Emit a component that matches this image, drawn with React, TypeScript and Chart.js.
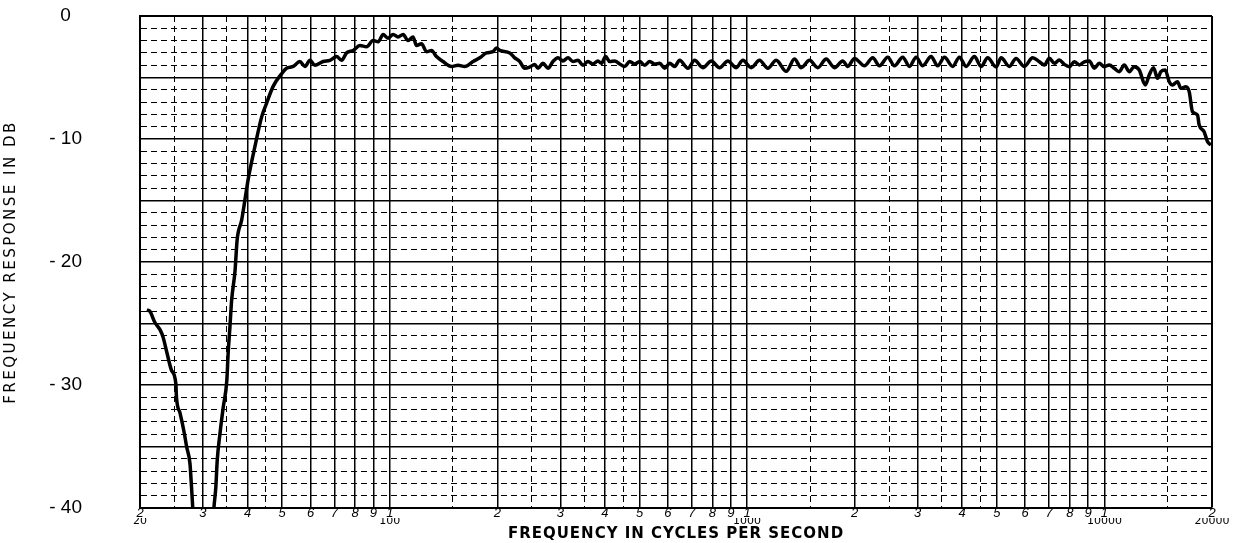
import React, { useEffect, useRef } from 'react';
import { Chart, registerables } from 'chart.js';

Chart.register(...registerables);

// Frequency response trace (Hz, dB)
const freqHz = [
  20.9, 21.3, 22.0, 22.75, 23.2, 23.8, 24.5, 25.2, 25.3, 25.9, 26.6, 27.0, 27.6, 27.9, 28.1,
  29.0, 31.0,
  32.2, 32.6, 32.9, 33.5, 34.2, 35.0, 35.3, 35.7, 36.1, 36.9, 37.4, 38.5, 39.3, 40.2,
  41.95, 43.8, 45.2, 47.2, 49.8, 51.4, 53.7, 56.0, 57.9, 59.8, 61.7, 65.1, 68.0, 71.0, 73.3, 75.7,
  79.0, 82.5, 86.1, 89.8, 92.8, 95.8, 98.9, 102.2, 105.5, 109, 112.5, 116.2, 118.8, 122.7, 126.7,
  130.9, 135.1, 141, 148.8, 155.3, 162.1, 171.1, 178.6, 186.5, 194.5, 198.8, 203.2,
  216.7, 223.7, 231.0, 238.6, 246.4, 254.4, 259.9, 268.4, 277.2, 286.2, 295.6, 305.3, 315.3,
  325.6, 336.3, 347.2, 358.6, 370.3, 382.4, 391.0, 402.0, 412.5, 426.0, 440.0, 454.4, 469.3,
  484.6, 500.5, 516.9, 533.8, 551.3, 569.3, 587.9, 607.2, 627.0, 647.4, 682.9, 713.0, 752.1,
  793.8, 837.4, 883.4, 932.5, 973.0, 1027, 1083, 1143, 1206, 1287, 1357, 1417, 1495, 1577,
  1665, 1756, 1852, 1913, 1998, 2130, 2247, 2347, 2475, 2584, 2726, 2847, 2972, 3101, 3273,
  3415, 3566, 3762, 3927, 4101, 4326, 4517, 4713, 4975, 5138, 5420, 5658, 5969, 6297, 6575,
  6790, 7012, 7241, 7478, 7723, 7976, 8237, 8506, 8784, 9072, 9368, 9674, 9990, 10317, 10654,
  11002, 11363, 11734, 12118, 12514, 13008, 13347, 13721, 14079, 14391, 14795, 15180, 15506,
  16013, 16368, 16904, 17267, 17639, 18215, 18415, 19012, 19420, 19860,
];

const responseDb = [
  -23.9, -24.0, -24.9, -25.5, -26.1, -27.4, -28.8, -29.9, -31.0, -32.3, -33.9, -35.0, -36.4, -38.5, -40.0,
  -46, -48,
  -40.0, -38.3, -36.1, -33.9, -31.8, -29.6, -27.4, -25.3, -23.1, -20.7, -18.2, -16.6, -15.0, -13.2,
  -10.6, -8.2, -7.1, -5.7, -4.7, -4.25, -4.1, -3.7, -4.1, -3.6, -4.0, -3.7, -3.6, -3.3, -3.6, -3.0,
  -2.8, -2.4, -2.5, -2.0, -2.1, -1.5, -1.8, -1.5, -1.7, -1.5, -2.0, -1.7, -2.4, -2.25, -2.9,
  -2.8, -3.3, -3.7, -4.1, -4.0, -4.1, -3.7, -3.4, -3.0, -2.9, -2.6, -2.8,
  -3.0, -3.4, -3.7, -4.25, -4.15, -3.95, -4.25, -3.85, -4.25, -3.7, -3.4, -3.65, -3.4,
  -3.7, -3.6, -4.0, -3.7, -3.9, -3.65, -3.85, -3.3, -3.7, -3.65, -3.9, -4.1, -3.7,
  -3.9, -3.7, -4.0, -3.7, -3.9, -3.85, -4.25, -3.85, -4.1, -3.6, -4.25, -3.6, -4.2,
  -3.65, -4.2, -3.65, -4.2, -3.6, -4.2, -3.6, -4.25, -3.6, -4.5, -3.5, -4.2, -3.6, -4.2,
  -3.5, -4.2, -3.65, -4.1, -3.45, -4.05, -3.4, -4.05, -3.35, -4.05, -3.35, -4.1, -3.35, -4.05, -3.3,
  -4.05, -3.35, -4.1, -3.35, -4.1, -3.3, -4.1, -3.4, -4.15, -3.4, -4.1, -3.45, -4.1, -3.4, -3.72,
  -3.98, -3.44, -3.85, -3.58, -3.93, -4.12, -3.72, -3.98, -3.72, -3.66, -4.25, -3.85, -4.12, -3.98, -4.25,
  -4.53, -3.98, -4.53, -4.12, -4.39, -5.61, -4.8, -4.2, -5.07, -4.53, -4.39, -5.34, -5.61,
  -5.34, -5.88, -5.75, -6.15, -7.78, -8.05, -8.86, -9.41, -10.2, -10.5,
];

// Axis ticks and labels
const majorFreqTicks = [
  20, 30, 40, 50, 60, 70, 80, 90, 100, 200, 300, 400, 500, 600, 700, 800, 900,
  1000, 2000, 3000, 4000, 5000, 6000, 7000, 8000, 9000, 10000, 20000,
];
const majorFreqLabels = [
  '2', '3', '4', '5', '6', '7', '8', '9', '1', '2', '3', '4', '5', '6', '7', '8', '9',
  '1', '2', '3', '4', '5', '6', '7', '8', '9', '1', '2',
];
const minorFreqTicks = [25, 35, 45, 150, 250, 350, 450, 1500, 2500, 3500, 4500, 15000];
const decadeTicks = [20, 100, 1000, 10000, 20000];
const decadeLabels = ['20', '100', '1000', '10000', '20000'];
const dbLabelValues = [0, -10, -20, -30, -40];
const dbLabelTexts = ['0', '- 10', '- 20', '- 30', '- 40'];
const dbGridTicks = Array.from({ length: 41 }, (_, i) => -40 + i);

const allFreqTicks = [...majorFreqTicks, ...minorFreqTicks].sort((a, b) => a - b);

// Widen the axis titles (the original uses an extended lettering style)
const titleLetterSpacing: Record<string, string> = { x2: '1px', y: '2.5px' };
const titleSpacingPlugin = {
  id: 'titleSpacing',
  beforeDraw(chart: any) {
    Object.keys(titleLetterSpacing).forEach((id) => {
      const scale: any = chart.scales[id];
      if (scale && !scale.__spaced) {
        const orig = scale.drawTitle.bind(scale);
        scale.drawTitle = () => {
          const ctx: any = chart.ctx;
          const prev = ctx.letterSpacing;
          ctx.letterSpacing = titleLetterSpacing[id];
          orig();
          ctx.letterSpacing = prev || '0px';
        };
        scale.__spaced = true;
      }
    });
  },
};

export default function App() {
  const ref = useRef<HTMLCanvasElement>(null);

  useEffect(() => {
    if (!ref.current) return;
    const chart = new Chart(ref.current, {
      type: 'line',
      data: {
        datasets: [
          {
            data: freqHz.map((f, i) => ({ x: f, y: responseDb[i] })),
            borderColor: '#000',
            borderWidth: 3.5,
            pointRadius: 0,
            tension: 0.3,
            cubicInterpolationMode: 'monotone',
            fill: false,
          },
        ],
      },
      plugins: [titleSpacingPlugin],
      options: {
        animation: false,
        responsive: true,
        maintainAspectRatio: false,
        layout: { padding: { top: 16, right: 25, bottom: 0, left: 0 } },
        plugins: { legend: { display: false }, tooltip: { enabled: false } },
        scales: {
          x: {
            type: 'logarithmic',
            position: 'bottom',
            weight: 0,
            min: 20,
            max: 20000,
            afterBuildTicks: (axis: any) => {
              axis.ticks = allFreqTicks.map((v) => ({ value: v }));
            },
            afterFit: (s: any) => {
              s.height = 10;
            },
            grid: {
              color: '#000',
              drawTicks: false,
              lineWidth: (c: any) => {
                if (!c.tick) return 1;
                if (c.tick.value === 20000) return 2;
                return majorFreqTicks.includes(c.tick.value) ? 1.5 : 1;
              },
            },
            border: {
              display: true,
              color: '#000',
              width: 2,
              dash: (c: any) => (c.tick && minorFreqTicks.includes(c.tick.value) ? [6, 4] : []),
            },
            ticks: {
              autoSkip: false,
              maxRotation: 0,
              minRotation: 0,
              padding: -1,
              color: '#000',
              font: { family: "'Liberation Sans', Arial, sans-serif", style: 'italic', size: 13, lineHeight: 1 },
              callback: (v: any) => {
                const i = majorFreqTicks.indexOf(Number(v));
                return i >= 0 ? majorFreqLabels[i] : '';
              },
            },
          },
          x2: {
            type: 'logarithmic',
            position: 'bottom',
            weight: 1,
            min: 20,
            max: 20000,
            afterBuildTicks: (axis: any) => {
              axis.ticks = decadeTicks.map((v) => ({ value: v }));
            },
            afterFit: (s: any) => {
              s.height = 25;
            },
            grid: { display: false, drawTicks: false },
            border: { display: false },
            ticks: {
              autoSkip: false,
              maxRotation: 0,
              minRotation: 0,
              padding: -2,
              color: '#000',
              font: { family: "'DejaVu Sans', sans-serif", size: 11, lineHeight: 1 },
              callback: (v: any) => {
                const i = decadeTicks.indexOf(Number(v));
                return i >= 0 ? decadeLabels[i] : '';
              },
            },
            title: {
              display: true,
              text: 'FREQUENCY IN CYCLES PER SECOND',
              color: '#000',
              font: { family: "'DejaVu Sans', sans-serif", weight: 'bold', size: 15, lineHeight: 1 },
              padding: { top: 0, bottom: 1 },
            },
          },
          y: {
            type: 'linear',
            min: -40,
            max: 0,
            afterBuildTicks: (axis: any) => {
              axis.ticks = dbGridTicks.map((v) => ({ value: v }));
            },
            afterFit: (s: any) => {
              s.width = 140;
            },
            grid: {
              color: '#000',
              drawTicks: true,
              tickLength: 58,
              tickColor: 'rgba(0,0,0,0)',
              lineWidth: (c: any) => {
                if (!c.tick) return 1;
                if (c.tick.value === 0) return 2;
                return c.tick.value % 5 === 0 ? 1.5 : 1;
              },
            },
            border: {
              display: true,
              color: '#000',
              width: 2,
              dash: (c: any) => (c.tick && c.tick.value % 5 !== 0 ? [6, 4] : []),
            },
            ticks: {
              autoSkip: false,
              padding: 0,
              crossAlign: 'center',
              color: '#000',
              font: { family: "'Liberation Sans', Arial, sans-serif", size: 19 },
              callback: (v: any) => {
                const i = dbLabelValues.indexOf(Number(v));
                return i >= 0 ? dbLabelTexts[i] : '';
              },
            },
            title: {
              display: true,
              text: 'FREQUENCY RESPONSE IN DB',
              color: '#000',
              font: { family: "'DejaVu Sans', sans-serif", size: 15, lineHeight: 1.2 },
              padding: { top: 2, bottom: 0 },
            },
          },
        },
      },
    });
    return () => chart.destroy();
  }, []);

  return (
    <div style={{ position: 'absolute', left: 0, top: 0, width: 1237, height: 543, background: '#fff' }}>
      <canvas ref={ref} />
    </div>
  );
}
